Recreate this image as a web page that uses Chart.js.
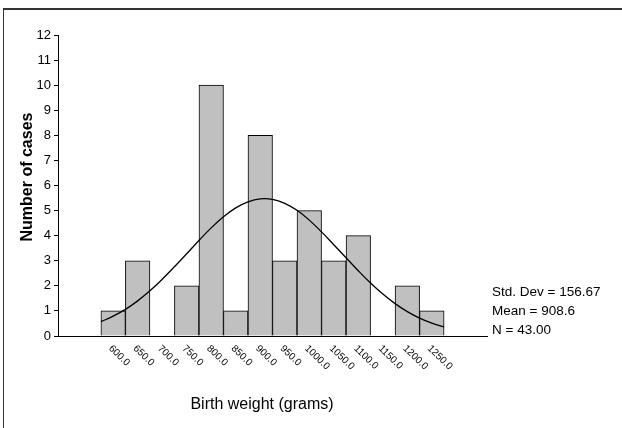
<!DOCTYPE html>
<html>
<head>
<meta charset="utf-8">
<script src="https://cdn.jsdelivr.net/npm/chart.js@4.4.1/dist/chart.umd.min.js"></script>
<style>
  html, body { margin: 0; padding: 0; background: #fff; }
  #wrap { position: relative; width: 622px; height: 428px; }
  #frame { position: absolute; left: 3px; top: 8px; right: 0; bottom: 0;
           border-top: 2px solid #333; border-left: 1px solid #333; }
  canvas { position: absolute; left: 0; top: 0; }
</style>
</head>
<body>
<div id="wrap">
  <div id="frame"></div>
  <canvas id="chart" width="622" height="428"></canvas>
</div>
<script>
// Histogram bins (bin midpoints, grams) and counts
const binCenters = [600, 650, 700, 750, 800, 850, 900, 950, 1000, 1050, 1100, 1150, 1200, 1250];
const binCounts  = [1, 3, 0, 2, 10, 1, 8, 3, 5, 3, 4, 0, 2, 1];
const binLabels  = ['600.0', '650.0', '700.0', '750.0', '800.0', '850.0', '900.0', '950.0',
                    '1000.0', '1050.0', '1100.0', '1150.0', '1200.0', '1250.0'];

// Fitted normal curve, sampled along the bin range
const curveX = [575, 600, 625, 650, 675, 700, 725, 750, 775, 800, 825, 850, 875, 900, 925,
                950, 975, 1000, 1025, 1050, 1075, 1100, 1125, 1150, 1175, 1200, 1225, 1250, 1275];
const curveY = [0.57, 0.79, 1.06, 1.40, 1.80, 2.26, 2.76, 3.28, 3.81, 4.31, 4.75, 5.11, 5.35, 5.47, 5.45,
                5.29, 5.01, 4.62, 4.15, 3.64, 3.12, 2.60, 2.11, 1.67, 1.29, 0.97, 0.71, 0.51, 0.36];

// Y-axis ticks
const yTicks = [0, 1, 2, 3, 4, 5, 6, 7, 8, 9, 10, 11, 12];

// Summary statistics
const statLines = ['Std. Dev = 156.67', 'Mean = 908.6', 'N = 43.00'];

const FONT = 'Arial, "Liberation Sans", sans-serif';

const extraText = {
  id: 'extraText',
  afterDraw(chart) {
    const ctx = chart.ctx;
    const xs = chart.scales.x;
    const area = chart.chartArea;
    ctx.save();
    ctx.fillStyle = '#000';

    // rotated bin labels under the axis
    ctx.font = '10px ' + FONT;
    ctx.textAlign = 'left';
    ctx.textBaseline = 'middle';
    binCenters.forEach((v, i) => {
      const px = xs.getPixelForValue(v);
      ctx.save();
      ctx.translate(px - 3, area.bottom + 11);
      ctx.rotate(44 * Math.PI / 180);
      ctx.fillText(binLabels[i], 0, 0);
      ctx.restore();
    });

    // axis titles
    ctx.font = '16px ' + FONT;
    ctx.textAlign = 'center';
    ctx.textBaseline = 'middle';
    ctx.fillText('Birth weight (grams)', 262, 405);

    ctx.save();
    ctx.translate(28, 177);
    ctx.rotate(-Math.PI / 2);
    ctx.font = 'bold 16px ' + FONT;
    ctx.fillText('Number of cases', 0, 0);
    ctx.restore();

    // statistics block
    ctx.font = '13.5px ' + FONT;
    ctx.textAlign = 'left';
    ctx.textBaseline = 'middle';
    const sy = [292, 311, 330];
    statLines.forEach((t, i) => ctx.fillText(t, area.right + 5, sy[i]));

    ctx.restore();
  }
};

new Chart(document.getElementById('chart'), {
  data: {
    datasets: [
      {
        type: 'line',
        data: curveX.map((x, i) => ({ x: x, y: curveY[i] })),
        borderColor: '#000',
        borderWidth: 1.3,
        pointRadius: 0,
        tension: 0.4,
        fill: false,
        order: 0
      },
      {
        type: 'bar',
        data: binCenters.map((x, i) => ({ x: x, y: binCounts[i] })),
        backgroundColor: '#c0c0c0',
        borderColor: '#000',
        borderWidth: 1,
        borderSkipped: 'bottom',
        barPercentage: 1,
        categoryPercentage: 1,
        order: 1
      }
    ]
  },
  options: {
    responsive: false,
    animation: false,
    events: [],
    layout: { padding: { left: 0, right: 135, top: 35, bottom: 92 } },
    plugins: { legend: { display: false }, tooltip: { enabled: false } },
    scales: {
      x: {
        type: 'linear',
        offset: false,
        min: 487.5,
        max: 1362.5,
        grid: { display: false, offset: false },
        ticks: { display: false },
        border: { display: true, color: '#000', width: 1 },
        afterFit(scale) { scale.height = 0; }
      },
      y: {
        min: 0,
        max: 12,
        afterBuildTicks(scale) { scale.ticks = yTicks.map(v => ({ value: v })); },
        ticks: { color: '#000', font: { family: FONT, size: 13 }, padding: 3 },
        grid: { drawOnChartArea: false, tickLength: 4, color: '#000' },
        border: { display: true, color: '#000', width: 1 },
        afterFit(scale) { scale.width = 58; }
      }
    }
  },
  plugins: [extraText]
});
</script>
</body>
</html>
